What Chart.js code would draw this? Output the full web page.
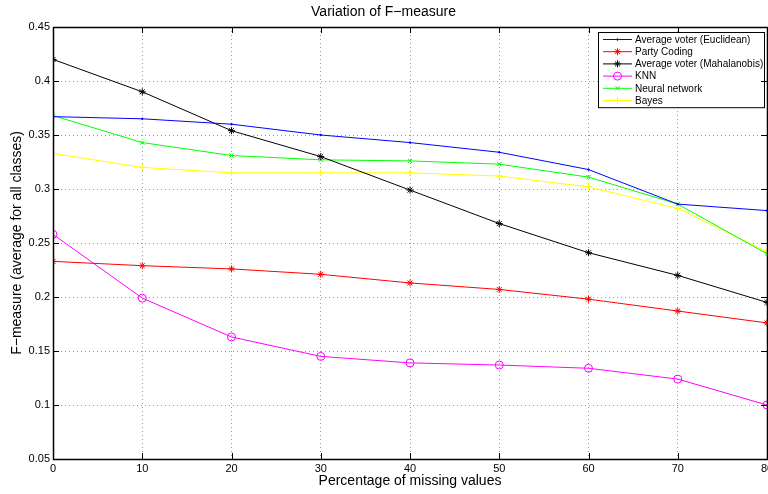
<!DOCTYPE html>
<html>
<head>
<meta charset="utf-8">
<script src="https://cdn.jsdelivr.net/npm/chart.js@4.4.1/dist/chart.umd.min.js"></script>
<style>
html, body { margin: 0; padding: 0; overflow: hidden; background: #fff; width: 768px; height: 494px; }
canvas { display: block; }
</style>
</head>
<body>
<canvas id="fmeasure" width="820" height="494"></canvas>
<script>
// percentage of missing values
const missing = [0, 10, 20, 30, 40, 50, 60, 70, 80];
const yTickLabels = ["0.05", "0.1", "0.15", "0.2", "0.25", "0.3", "0.35", "0.4", "0.45"];

const euclidean = [0.367, 0.365, 0.360, 0.350, 0.343, 0.334, 0.318, 0.286, 0.280];
const partyCoding = [0.233, 0.229, 0.226, 0.221, 0.213, 0.207, 0.198, 0.187, 0.176];
const mahalanobis = [0.420, 0.390, 0.354, 0.330, 0.299, 0.268, 0.241, 0.220, 0.195];
const knn = [0.258, 0.199, 0.163, 0.145, 0.139, 0.137, 0.134, 0.124, 0.100];
const neural = [0.368, 0.343, 0.331, 0.327, 0.326, 0.323, 0.311, 0.286, 0.240];
const bayes = [0.333, 0.320, 0.315, 0.315, 0.315, 0.312, 0.302, 0.282, 0.242];

function pts(arr) {
	return arr.map((v, i) => ({ x: missing[i], y: v }));
}

function series(label, values, color, style, radius) {
	return {
		label: label,
		data: pts(values),
		borderColor: color,
		backgroundColor: color,
		borderWidth: 1,
		pointStyle: style,
		pointRadius: radius,
		pointBorderWidth: 1,
		pointBackgroundColor: style == "circle" ? "rgba(0,0,0,0)" : color,
		tension: 0,
		fill: false,
	};
}

const datasets = [
	series("Average voter (Euclidean)", euclidean, "#0000ff", "circle", 0.8),
	series("Party Coding", partyCoding, "#ff0000", "star", 3.5),
	series("Average voter (Mahalanobis)", mahalanobis, "#000000", "star", 3.5),
	series("KNN", knn, "#ff00ff", "circle", 4),
	series("Neural network", neural, "#00ff00", "crossRot", 3),
	series("Bayes", bayes, "#ffff00", "cross", 3.5),
];
datasets[0].pointBackgroundColor = "#0000ff";

// box around the plot with inward ticks, like the original
const framePlugin = {
	id: "frame",
	afterDraw(chart) {
		const ctx = chart.ctx;
		const a = chart.chartArea;
		const xs = chart.scales.x;
		const ys = chart.scales.y;
		ctx.save();
		ctx.strokeStyle = "#000";
		ctx.lineWidth = 1;
		ctx.beginPath();
		for (const t of xs.ticks) {
			const px = Math.round(xs.getPixelForValue(t.value)) + 0.5;
			ctx.moveTo(px, a.bottom); ctx.lineTo(px, a.bottom - 6);
			ctx.moveTo(px, a.top); ctx.lineTo(px, a.top + 6);
		}
		for (const t of ys.ticks) {
			const py = Math.round(ys.getPixelForValue(t.value)) + 0.5;
			ctx.moveTo(a.left, py); ctx.lineTo(a.left + 6, py);
			ctx.moveTo(a.right, py); ctx.lineTo(a.right - 6, py);
		}
		ctx.stroke();
		ctx.lineWidth = 1.5;
		ctx.strokeRect(Math.round(a.left) + 0.5, Math.round(a.top) + 0.5, Math.round(a.right - a.left), Math.round(a.bottom - a.top));
		ctx.restore();
	},
};

// legend box inside the plot, top right corner
const boxLegend = {
	id: "boxLegend",
	afterDatasetsDraw(chart) {
		const ctx = chart.ctx;
		const a = chart.chartArea;
		const bw = 166, rowH = 12.2;
		const bx = a.right - 169, by = a.top + 5;
		const bh = datasets.length * rowH + 2;
		ctx.save();
		ctx.fillStyle = "#fff";
		ctx.fillRect(bx, by, bw, bh);
		ctx.strokeStyle = "#000";
		ctx.lineWidth = 1;
		ctx.strokeRect(bx + 0.5, by + 0.5, bw, bh);
		ctx.font = "10px 'Liberation Sans', Arial, sans-serif";
		ctx.textBaseline = "middle";
		chart.data.datasets.forEach((ds, i) => {
			const y = by + 7.5 + i * rowH;
			ctx.strokeStyle = ds.borderColor;
			ctx.lineWidth = 1;
			ctx.beginPath();
			ctx.moveTo(bx + 5, y); ctx.lineTo(bx + 34, y);
			ctx.stroke();
			ctx.fillStyle = ds.pointBackgroundColor;
			Chart.helpers.drawPoint(ctx, { pointStyle: ds.pointStyle, radius: ds.pointRadius, borderWidth: 1, rotation: 0 }, bx + 19.5, y);
			ctx.fillStyle = "#000";
			ctx.fillText(ds.label, bx + 37, y + 0.5);
		});
		ctx.restore();
	},
};

const fontFam = "'Liberation Sans', Arial, sans-serif";

new Chart("fmeasure", {
	type: "line",
	data: { datasets: datasets },
	options: {
		responsive: false,
		animation: false,
		layout: { padding: { left: 0, right: 53, top: 0, bottom: 0 } },
		plugins: {
			legend: { display: false },
			tooltip: { enabled: false },
			title: {
				display: true,
				text: "Variation of F\u2212measure",
				color: "#000",
				font: { family: fontFam, size: 14, weight: "normal" },
				padding: { top: 4, bottom: 6.2 },
			},
		},
		scales: {
			x: {
				type: "linear",
				min: 0,
				max: 80,
				afterFit(scale) { scale.height = 35; },
				border: { display: false, dash: [1, 3] },
				grid: { color: "#9a9a9a", drawTicks: false, lineWidth: 1 },
				ticks: {
					stepSize: 10,
					padding: 3,
					color: "#000",
					font: { family: fontFam, size: 11 },
				},
				title: {
					display: true,
					text: "Percentage of missing values",
					color: "#000",
					font: { family: fontFam, size: 14 },
					padding: { top: 0, bottom: 4 },
				},
			},
			y: {
				min: 0.05,
				max: 0.45,
				afterFit(scale) { scale.width = 53; },
				border: { display: false, dash: [1, 3] },
				grid: { color: "#9a9a9a", drawTicks: false, lineWidth: 1 },
				ticks: {
					stepSize: 0.05,
					padding: 3,
					color: "#000",
					font: { family: fontFam, size: 11 },
					callback: (v) => yTickLabels.find((l) => Math.abs(parseFloat(l) - v) < 1e-6),
				},
				title: {
					display: true,
					text: "F\u2212measure (average for all classes)",
					color: "#000",
					font: { family: fontFam, size: 14 },
					padding: { top: 9, bottom: 0 },
				},
			},
		},
	},
	plugins: [framePlugin, boxLegend],
});
</script>
</body>
</html>
